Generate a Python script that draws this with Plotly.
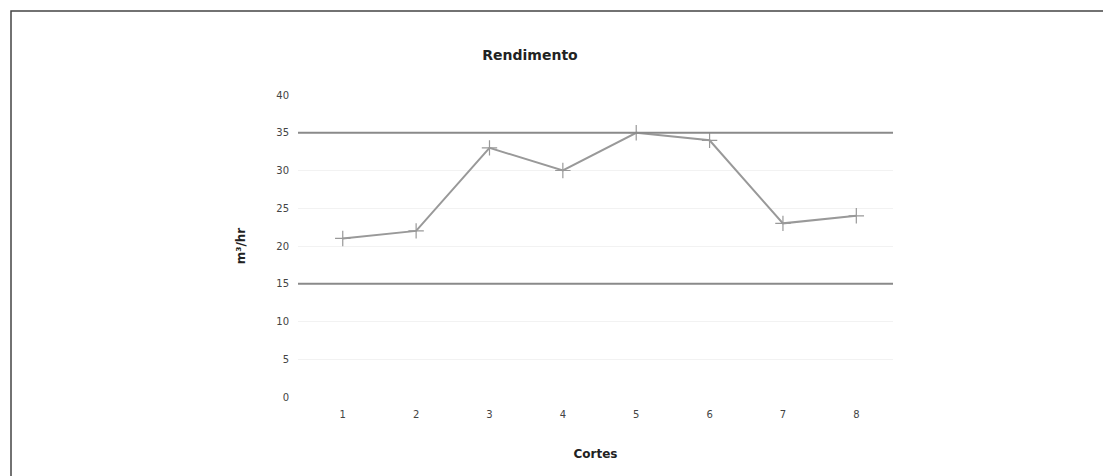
import plotly.graph_objects as go

# Rendimento por corte
cortes = ["1", "2", "3", "4", "5", "6", "7", "8"]
rendimento = [21, 22, 33, 30, 35, 34, 23, 24]
limite_superior = 35
limite_inferior = 15
y_ticks = [0, 5, 10, 15, 20, 25, 30, 35, 40]

W, H = 1103, 476
L, R, T, B = 298, 210, 95, 79
pw, ph = W - L - R, H - T - B

x_range = [-0.61, len(cortes) - 0.5]


def px_x(p):
    return (p - L) / pw


def px_y(p):
    return (H - B - p) / ph


fig = go.Figure()

# Linhas de referência
for lim in (limite_superior, limite_inferior):
    fig.add_trace(go.Scatter(
        x=x_range, y=[lim, lim], mode="lines",
        line=dict(color="#8a8a8a", width=2), hoverinfo="skip", showlegend=False,
        xaxis="x2",
    ))

fig.add_trace(go.Scatter(
    x=cortes, y=rendimento, mode="lines+markers",
    line=dict(color="#999999", width=2),
    marker=dict(symbol="cross-thin", size=11, line=dict(color="#999999", width=1.2)),
    showlegend=False,
))

fig.update_layout(
    width=W, height=H,
    margin=dict(l=L, r=R, t=T, b=B),
    paper_bgcolor="white", plot_bgcolor="white",
    font=dict(family="DejaVu Sans", color="#333333"),
    title=dict(text="<b>Rendimento</b>", xref="container", x=530 / W, xanchor="center",
               yref="container", y=1 - 55 / H, yanchor="middle",
               font=dict(size=14, color="#222222")),
    xaxis=dict(
        type="category", range=x_range,
        showgrid=False, zeroline=False, showline=False,
        ticks="outside", ticklen=8, tickcolor="rgba(0,0,0,0)",
        tickfont=dict(size=10, color="#444444"),
        title=dict(text="<b>Cortes</b>", font=dict(size=12, color="#222222"), standoff=30),
    ),
    xaxis2=dict(range=x_range, overlaying="x", visible=False),
    yaxis=dict(
        range=[0, 40], tickvals=y_ticks,
        showgrid=True, gridcolor="#f2f2f2", gridwidth=1,
        zeroline=False, showline=False,
        ticks="outside", ticklen=6, tickcolor="rgba(0,0,0,0)",
        tickfont=dict(size=10, color="#444444"),
        title=dict(text="<b>m³/hr</b>", font=dict(size=12, color="#222222"), standoff=28),
    ),
    shapes=[dict(
        type="rect", xref="paper", yref="paper",
        x0=px_x(11), y0=px_y(H + 20), x1=px_x(W + 20), y1=px_y(11),
        line=dict(color="#444444", width=1.5), fillcolor="rgba(0,0,0,0)",
        layer="below",
    )],
)

fig.write_html("out.html")
